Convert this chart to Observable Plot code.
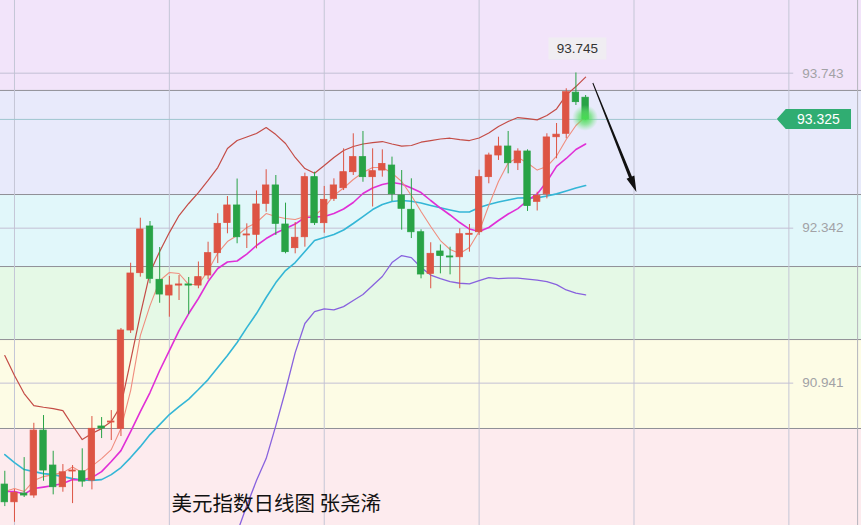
<!DOCTYPE html>
<html><head><meta charset="utf-8">
<script src="https://cdn.jsdelivr.net/npm/d3@7"></script>
<script src="https://cdn.jsdelivr.net/npm/@observablehq/plot@0.6"></script>
<style>html,body{margin:0;padding:0;background:#fff;overflow:hidden}</style>
</head><body><div id="chart"></div>
<script>
// ---- data ----
const open = [90.024, 89.864, 89.943, 89.925, 90.512, 90.196, 90.000, 90.142, 90.144, 90.060,
  90.549, 90.585, 90.528, 91.417, 91.935, 92.357, 91.875, 91.733, 91.823, 91.833,
  91.823, 91.914, 92.116, 92.389, 92.547, 92.276, 92.282, 92.562, 92.728, 92.375,
  92.161, 92.260, 92.803, 92.387, 92.607, 92.703, 92.848, 92.984, 92.803, 92.863,
  92.908, 92.637, 92.508, 92.305, 91.929, 92.131, 92.086, 92.079, 92.282, 92.305,
  92.803, 92.999, 93.080, 92.929, 93.035, 92.580, 92.649, 93.164, 93.195, 93.567, 93.521];
const high = [90.144, 89.979, 90.268, 90.578, 90.648, 90.325, 90.205, 90.196, 90.347, 90.639,
  90.630, 90.693, 91.435, 92.025, 92.432, 92.402, 92.167, 91.905, 91.914, 91.896,
  92.036, 92.215, 92.472, 92.628, 92.786, 92.381, 92.678, 92.870, 92.818, 92.568,
  92.393, 92.839, 92.848, 92.719, 92.788, 93.059, 93.195, 93.216, 93.059, 93.050,
  92.984, 92.863, 92.788, 92.327, 92.210, 92.190, 92.170, 92.336, 92.375, 92.866,
  93.020, 93.164, 93.216, 93.059, 93.050, 92.667, 93.195, 93.288, 93.602, 93.745, 93.541];
const low = [89.825, 89.683, 89.907, 89.900, 90.054, 89.931, 89.955, 89.852, 90.000, 89.976,
  90.440, 90.422, 90.458, 91.390, 91.899, 91.839, 91.663, 91.537, 91.688, 91.561,
  91.794, 91.875, 92.022, 92.291, 92.201, 92.158, 92.155, 92.486, 92.276, 92.110,
  92.110, 92.170, 92.366, 92.296, 92.583, 92.682, 92.818, 92.757, 92.533, 92.803,
  92.583, 92.324, 92.248, 91.884, 91.794, 91.929, 91.920, 91.794, 92.125, 92.276,
  92.743, 92.954, 92.833, 92.863, 92.493, 92.497, 92.607, 92.969, 93.150, 93.451, 93.315];
const close = [89.864, 89.949, 89.925, 90.512, 90.151, 90.000, 90.135, 90.151, 90.051, 90.528,
  90.531, 90.594, 91.417, 91.932, 92.330, 91.884, 91.742, 91.823, 91.833, 91.823,
  91.899, 92.116, 92.381, 92.547, 92.260, 92.285, 92.556, 92.728, 92.381, 92.125,
  92.255, 92.803, 92.387, 92.598, 92.728, 92.848, 92.984, 92.803, 92.857, 92.922,
  92.649, 92.517, 92.305, 91.923, 92.110, 92.090, 92.077, 92.287, 92.291, 92.803,
  92.999, 93.080, 92.929, 93.035, 92.542, 92.633, 93.162, 93.187, 93.571, 93.481, 93.325];

const bollUpper = [91.190, 91.010, 90.847, 90.738, 90.723, 90.711, 90.693, 90.558, 90.431, 90.485,
  90.530, 90.594, 90.738, 91.145, 91.561, 91.941, 92.131, 92.302, 92.456, 92.565,
  92.664, 92.773, 92.890, 93.062, 93.134, 93.166, 93.198, 93.252, 93.188, 93.107,
  92.981, 92.881, 92.839, 92.908, 92.981, 93.044, 93.080, 93.103, 93.116, 93.125,
  93.103, 93.084, 93.089, 93.119, 93.134, 93.148, 93.155, 93.143, 93.134, 93.157,
  93.202, 93.261, 93.306, 93.342, 93.333, 93.321, 93.360, 93.420, 93.545, 93.622, 93.707];
const bollLower = [null, null, null, null, null, null, null, null, null, null,
  null, null, null, null, null, null, null, null, null, null,
  null, null, null, null, 89.590, 89.834, 90.060, 90.259, 90.557, 90.874,
  91.217, 91.480, 91.588, 91.613, 91.603, 91.633, 91.688, 91.742, 91.823, 91.905,
  92.031, 92.094, 92.076, 91.986, 91.918, 91.886, 91.859, 91.844, 91.839, 91.868,
  91.895, 91.886, 91.891, 91.891, 91.882, 91.873, 91.859, 91.832, 91.783, 91.755, 91.739];
const ma20 = [90.295, 90.223, 90.160, 90.141, 90.123, 90.114, 90.096, 90.078, 90.065, 90.062,
  90.069, 90.114, 90.178, 90.268, 90.367, 90.476, 90.566, 90.657, 90.729, 90.797,
  90.883, 90.973, 91.082, 91.190, 91.308, 91.443, 91.570, 91.715, 91.850, 91.959,
  92.031, 92.131, 92.230, 92.257, 92.284, 92.325, 92.384, 92.447, 92.510, 92.556,
  92.583, 92.592, 92.585, 92.569, 92.547, 92.526, 92.506, 92.488, 92.488, 92.528,
  92.556, 92.578, 92.596, 92.614, 92.616, 92.616, 92.632, 92.652, 92.678, 92.705, 92.727];
const ma10 = [89.961, 89.961, 89.938, 89.988, 90.001, 90.015, 90.033, 90.069, 90.065, 90.087,
  90.141, 90.232, 90.331, 90.503, 90.684, 90.856, 91.055, 91.235, 91.416, 91.570,
  91.706, 91.859, 91.977, 92.036, 92.045, 92.108, 92.185, 92.248, 92.298, 92.339,
  92.379, 92.438, 92.443, 92.447, 92.474, 92.515, 92.574, 92.655, 92.705, 92.736,
  92.754, 92.741, 92.705, 92.664, 92.592, 92.524, 92.461, 92.393, 92.334, 92.311,
  92.348, 92.411, 92.470, 92.519, 92.592, 92.651, 92.764, 92.900, 92.972, 93.053, 93.103];
const ma5 = [89.961, 89.988, 89.961, 90.060, 90.096, 90.114, 90.132, 90.182, 90.132, 90.191,
  90.259, 90.340, 90.530, 90.874, 91.371, 91.642, 91.868, 91.941, 91.932, 91.832,
  91.832, 91.959, 92.117, 92.221, 92.275, 92.348, 92.393, 92.474, 92.447, 92.429,
  92.420, 92.447, 92.456, 92.528, 92.637, 92.705, 92.782, 92.845, 92.890, 92.890,
  92.840, 92.764, 92.637, 92.492, 92.357, 92.230, 92.149, 92.113, 92.167, 92.311,
  92.547, 92.764, 92.931, 92.981, 92.931, 92.867, 92.899, 92.994, 93.143, 93.270, 93.351];

const priceLabels = [93.743, 92.342, 90.941];
const bandEdges = [94.400, 93.587, 92.646, 91.995, 91.335, 90.531, 89.654];
const bandColors = ["#f2e4fa", "#e8eafb", "#e1f7fa", "#e5f9e6", "#fdfce5", "#fdebee"];
const gridX = [1, 17, 33, 49, 65, 81];
const lastPrice = 93.325;
const peakIndex = 59;
const peakPrice = 93.745;
const arrowFrom = [60.8, 93.650];
const arrowTo = [65.3, 92.665];
const title = "美元指数日线图 张尧浠";

// ---- derived tables ----
const candles = open.map((o, i) => ({i, o, h: high[i], l: low[i], c: close[i]}));
const series = (arr) => arr.map((v, i) => ({i, v: v == null ? NaN : v}));
const bands = bandColors.map((fill, k) => ({top: bandEdges[k], bottom: bandEdges[k + 1], fill}));
const RED = "#dd5444", GREEN = "#28a346";
const col = d => d.c >= d.o ? RED : GREEN;
const xDomain = [-0.444, 88.502];

const chart = Plot.plot({
  width: 861, height: 525,
  margin: 0,
  x: {domain: xDomain, axis: null},
  y: {domain: [bandEdges[6], bandEdges[0]], axis: null},
  style: {fontFamily: "'Liberation Sans', Arial, sans-serif", background: "#fff"},
  marks: [
    Plot.rect(bands, {x1: xDomain[0], x2: xDomain[1], y1: "bottom", y2: "top", fill: "fill"}),
    Plot.ruleY(bandEdges.slice(1, 6), {stroke: "#8f8f96", strokeWidth: 1}),
    Plot.ruleX(gridX, {stroke: "#c4c6d6", strokeWidth: 1}),
    Plot.ruleY(priceLabels, {x1: xDomain[0], x2: 81.5, stroke: "#c3c0d4", strokeWidth: 1}),
    Plot.ruleY([lastPrice], {x1: xDomain[0], x2: 79.8, stroke: "#9fc6cf", strokeWidth: 1}),
    Plot.ruleX([88.1], {stroke: "#b4b4bc", strokeWidth: 1}),
    Plot.text(priceLabels, {y: d => d, text: d => d.toFixed(3), frameAnchor: "right", dx: -18,
      textAnchor: "end", fill: "#a2a2a6", fontSize: 13.5}),
    // indicator lines
    Plot.line(series(bollLower), {x: "i", y: "v", stroke: "#8862de", strokeWidth: 1.3, clip: true}),
    Plot.line(series(ma20), {x: "i", y: "v", stroke: "#34b6d6", strokeWidth: 1.6, clip: true}),
    Plot.line(series(bollUpper), {x: "i", y: "v", stroke: "#c44c46", strokeWidth: 1.2, clip: true}),
    Plot.line(series(ma10), {x: "i", y: "v", stroke: "#e02fd6", strokeWidth: 1.6, clip: true}),
    Plot.line(series(ma5), {x: "i", y: "v", stroke: "#f08d7e", strokeWidth: 1.1, clip: true}),
    // candles
    Plot.ruleX(candles, {x: "i", y1: "l", y2: "h", stroke: col, strokeWidth: 1}),
    Plot.rect(candles, {x1: d => d.i - 0.33, x2: d => d.i + 0.33,
      y1: d => Math.min(d.o, d.c), y2: d => Math.max(d.o, d.c), fill: col, stroke: col, strokeWidth: 0.8}),
    // glow at last close
    (index, scales) => {
      const cx = scales.x(candles.length - 1), cy = scales.y(lastPrice);
      const g = d3.create("svg:g");
      const grad = g.append("defs").append("radialGradient").attr("id", "glow");
      grad.append("stop").attr("offset", "0%").attr("stop-color", "#45dd50").attr("stop-opacity", 1);
      grad.append("stop").attr("offset", "50%").attr("stop-color", "#5fe06a").attr("stop-opacity", 0.65);
      grad.append("stop").attr("offset", "100%").attr("stop-color", "#7be88a").attr("stop-opacity", 0);
      g.append("circle").attr("cx", cx).attr("cy", cy - 1).attr("r", 13).attr("fill", "url(#glow)");
      return g.node();
    },
    // peak label
    (index, scales) => {
      const cx = scales.x(peakIndex) + 2, cy = scales.y(peakPrice) - 24;
      const g = d3.create("svg:g");
      g.append("rect").attr("x", cx - 29).attr("y", cy - 11).attr("width", 58).attr("height", 22)
        .attr("fill", "#efedf1").attr("opacity", 0.95);
      g.append("text").attr("x", cx).attr("y", cy).attr("dy", "0.35em").attr("text-anchor", "middle")
        .attr("font-size", 13.5).attr("fill", "#333").text(peakPrice.toFixed(3));
      return g.node();
    },
    // last price tag
    (index, scales) => {
      const y = scales.y(lastPrice), xl = scales.x(79.8), xr = 851;
      const g = d3.create("svg:g");
      g.append("path").attr("d", `M${xl},${y} L${xl + 9},${y - 10} L${xr},${y - 10} L${xr},${y + 10} L${xl + 9},${y + 10} Z`)
        .attr("fill", "#30ad72");
      g.append("text").attr("x", (xl + 9 + xr) / 2).attr("y", y).attr("dy", "0.36em").attr("text-anchor", "middle")
        .attr("font-size", 14).attr("fill", "#fff").text(lastPrice.toFixed(3));
      return g.node();
    },
    // tapered arrow with filled head
    (index, scales) => {
      const x1 = scales.x(arrowFrom[0]), y1 = scales.y(arrowFrom[1]);
      const x2 = scales.x(arrowTo[0]), y2 = scales.y(arrowTo[1]);
      const dx = x2 - x1, dy = y2 - y1, len = Math.hypot(dx, dy);
      const ux = dx / len, uy = dy / len, nx = -uy, ny = ux;
      const head = 16, hw = 4.2, w0 = 0.5, w1 = 1.6;
      const bx = x2 - ux * head, by = y2 - uy * head;
      const pts = [
        [x1 + nx * w0, y1 + ny * w0], [bx + nx * w1, by + ny * w1], [bx + nx * hw, by + ny * hw],
        [x2, y2], [bx - nx * hw, by - ny * hw], [bx - nx * w1, by - ny * w1], [x1 - nx * w0, y1 - ny * w0]
      ];
      return d3.create("svg:path").attr("d", "M" + pts.map(p => p.join(",")).join("L") + "Z")
        .attr("fill", "#111").node();
    },
    Plot.text([title], {text: d => d, frameAnchor: "top-left", dx: 171, dy: 496, textAnchor: "start",
      fontSize: 20.5, fill: "#111", fontFamily: "'Noto Sans CJK SC', sans-serif"})
  ]
});
document.getElementById("chart").appendChild(chart);
</script>
</body></html>
